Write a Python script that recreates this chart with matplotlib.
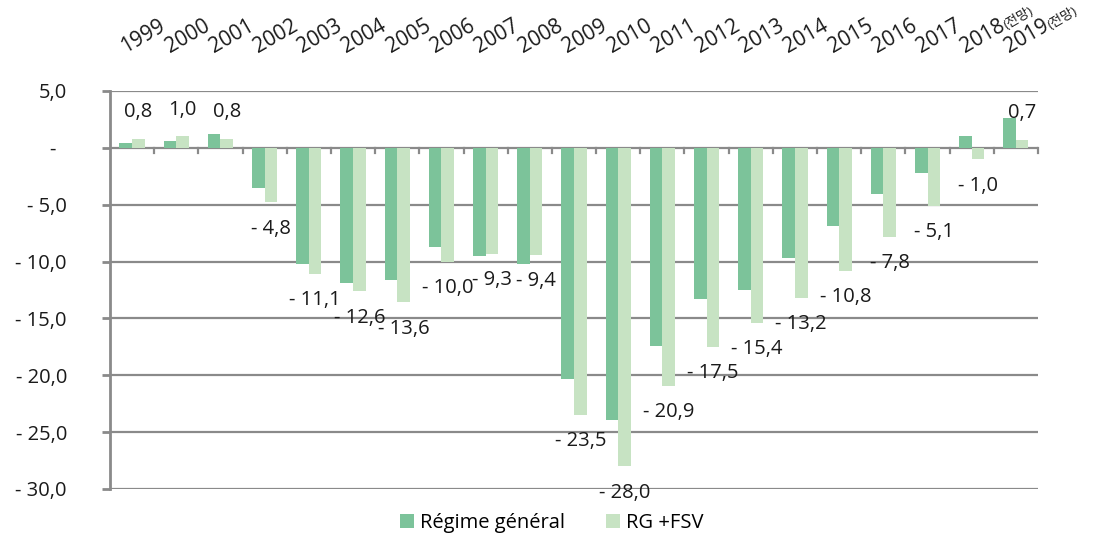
import numpy as np
import matplotlib.pyplot as plt
from matplotlib.transforms import blended_transform_factory

plt.rcParams['font.family'] = ['Open Sans', 'Noto Sans CJK KR', 'DejaVu Sans']

years = ['1999', '2000', '2001', '2002', '2003', '2004', '2005', '2006', '2007', '2008',
         '2009', '2010', '2011', '2012', '2013', '2014', '2015', '2016', '2017', '2018', '2019']
forecast = ['2018', '2019']
regime_general = [0.4, 0.6, 1.2, -3.5, -10.2, -11.9, -11.6, -8.7, -9.5, -10.2,
                  -20.3, -23.9, -17.4, -13.3, -12.5, -9.7, -6.9, -4.1, -2.2, 1.0, 2.6]
rg_fsv = [0.8, 1.0, 0.8, -4.8, -11.1, -12.6, -13.6, -10.0, -9.3, -9.4,
          -23.5, -28.0, -20.9, -17.5, -15.4, -13.2, -10.8, -7.8, -5.1, -1.0, 0.7]
yticks = [5, 0, -5, -10, -15, -20, -25, -30]

dark = '#7cc39a'
light = '#c7e3c3'
grid = '#8a8a8a'
fs = 14.5


def fmt(v):
    if v == 0:
        return '-  '
    s = f'{abs(v):.1f}'.replace('.', ',')
    return s if v > 0 else '- ' + s


fig = plt.figure(figsize=(11.19, 5.38), dpi=100)
ax = fig.add_axes([0.0983, 0.0911, 0.8293, 0.7398])

x = np.arange(len(years))
w = 0.285
ax.bar(x - w / 2, regime_general, w, color=dark, label='Régime général', zorder=3)
ax.bar(x + w / 2, rg_fsv, w, color=light, label='RG +FSV', zorder=3)

for xi, v in zip(x, rg_fsv):
    off = 19 if v > 0 else -19
    ax.annotate(fmt(v), (xi + w / 2, v), xytext=(0, off), textcoords='offset points',
                ha='center', va='center', fontsize=fs, color='#1a1a1a', zorder=4)

ax.set_xlim(-0.5, len(years) - 0.5)
ax.set_ylim(-30, 5)
ax.set_yticks(yticks)
ax.set_yticklabels([fmt(t) for t in yticks], fontsize=fs, color='#1a1a1a')
ax.tick_params(axis='y', length=6, width=2, color=grid, pad=25)
for t in yticks:
    ax.axhline(t, color=grid, lw=1.6, zorder=2)

ax.set_xticks([])
for b in np.arange(0.5, len(years) - 0.5, 1.0):
    ax.plot([b, b], [0, -0.45], color=grid, lw=1.6, zorder=2, clip_on=False)
ax.plot([len(years) - 0.5] * 2, [0, -0.45], color=grid, lw=1.6, zorder=2, clip_on=False)

for s in ['top', 'right', 'bottom']:
    ax.spines[s].set_visible(False)
ax.spines['left'].set_color(grid)
ax.spines['left'].set_linewidth(2)
ax.spines['left'].set_zorder(4)

tr = blended_transform_factory(ax.transData, ax.transAxes)
ang = 30
for xi, yr in zip(x, years):
    ax.text(xi - 0.15, 1.095, yr, transform=tr, rotation=ang, rotation_mode='anchor',
            ha='left', va='baseline', fontsize=15, color='#1a1a1a')
    if yr in forecast:
        d = 34.5
        ax.annotate('(전망)', (xi - 0.15, 1.095), xycoords=tr,
                    xytext=(d * np.cos(np.radians(ang)), d * np.sin(np.radians(ang))),
                    textcoords='offset points', rotation=ang, rotation_mode='anchor',
                    ha='left', va='baseline', fontsize=9.5, color='#1a1a1a')

fig.legend(loc='center', bbox_to_anchor=(0.493, 0.028), ncol=2, frameon=False,
           fontsize=fs, handlelength=0.7, handleheight=0.7, columnspacing=2.0,
           handletextpad=0.3)

fig.savefig('out.png', dpi=100)
